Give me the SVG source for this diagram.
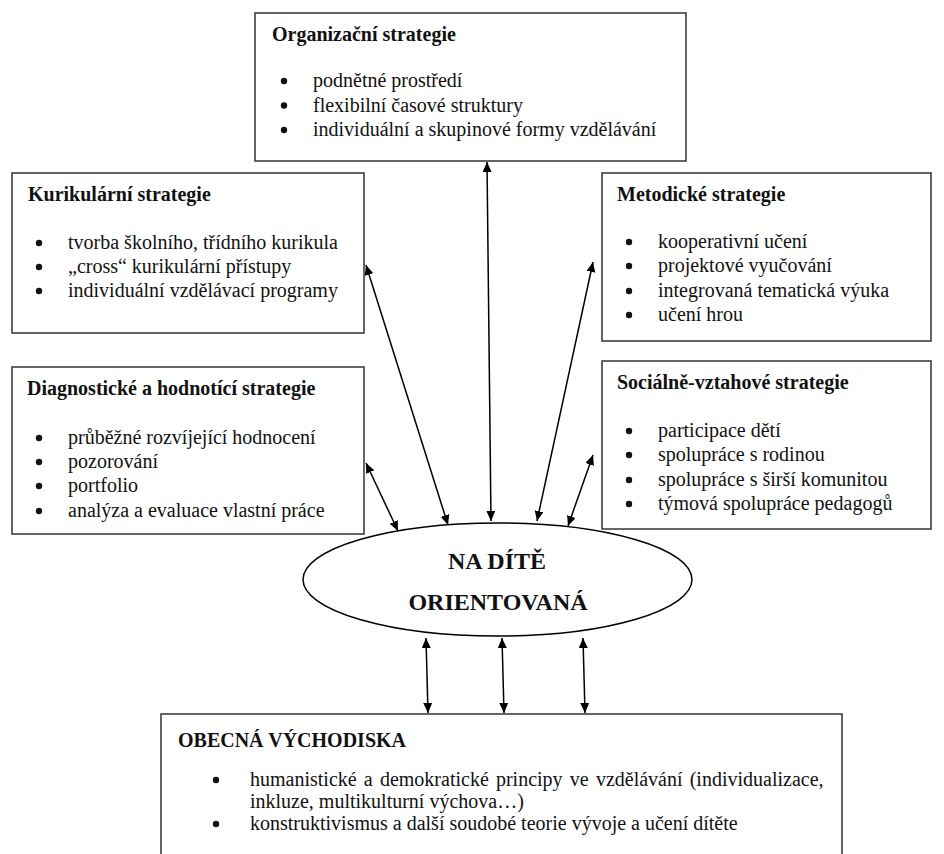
<svg xmlns="http://www.w3.org/2000/svg" width="944" height="854" viewBox="0 0 944 854">
<style>
.box{fill:#fff;stroke:#333;stroke-width:1.5}
.t{font-family:"Liberation Serif","Times New Roman",serif;font-size:20px;fill:#111}
.h{font-weight:bold}
.c{font-family:"Liberation Serif","Times New Roman",serif;font-size:24px;font-weight:bold;fill:#111;text-anchor:middle}
.a{stroke:#000;stroke-width:1.5;fill:none;marker-start:url(#ah);marker-end:url(#ah)}
.d{fill:#111}
</style>
<defs>
<marker id="ah" markerUnits="userSpaceOnUse" markerWidth="11" markerHeight="10" refX="10" refY="4.5" orient="auto-start-reverse">
<path d="M0,0 L10,4.5 L0,9 z" fill="#000"/>
</marker>
</defs>
<rect width="944" height="854" fill="#fff"/>

<g id="connectors">
<line class="a" x1="487" y1="162" x2="491" y2="521"/>
<line class="a" x1="366" y1="265" x2="448" y2="525"/>
<line class="a" x1="593" y1="262" x2="537" y2="521"/>
<line class="a" x1="366" y1="463" x2="398" y2="531"/>
<line class="a" x1="593" y1="455" x2="568" y2="526"/>
<line class="a" x1="426" y1="638" x2="428" y2="713"/>
<line class="a" x1="502" y1="638" x2="504" y2="713"/>
<line class="a" x1="583" y1="638" x2="585" y2="713"/>
</g>

<g id="organizacni">
<rect class="box" x="255" y="13" width="431" height="148"/>
<text class="t h" x="272" y="41">Organizační strategie</text>
<circle class="d" cx="284" cy="81" r="3.2"/><text class="t" x="313" y="87">podnětné prostředí</text>
<circle class="d" cx="284" cy="105.5" r="3.2"/><text class="t" x="313" y="111.5">flexibilní časové struktury</text>
<circle class="d" cx="284" cy="130" r="3.2"/><text class="t" x="313" y="136">individuální a skupinové formy vzdělávání</text>
</g>

<g id="kurikularni">
<rect class="box" x="12" y="173" width="352" height="160"/>
<text class="t h" x="28" y="201">Kurikulární strategie</text>
<circle class="d" cx="39" cy="243" r="3.2"/><text class="t" x="68" y="249">tvorba školního, třídního kurikula</text>
<circle class="d" cx="39" cy="267" r="3.2"/><text class="t" x="68" y="273">„cross“ kurikulární přístupy</text>
<circle class="d" cx="39" cy="291" r="3.2"/><text class="t" x="68" y="297">individuální vzdělávací programy</text>
</g>

<g id="metodicke">
<rect class="box" x="602" y="173" width="329" height="168"/>
<text class="t h" x="617" y="201">Metodické strategie</text>
<circle class="d" cx="629" cy="242" r="3.2"/><text class="t" x="658" y="248">kooperativní učení</text>
<circle class="d" cx="629" cy="266" r="3.2"/><text class="t" x="658" y="272">projektové vyučování</text>
<circle class="d" cx="629" cy="291" r="3.2"/><text class="t" x="658" y="297">integrovaná tematická výuka</text>
<circle class="d" cx="629" cy="315" r="3.2"/><text class="t" x="658" y="321">učení hrou</text>
</g>

<g id="diagnosticke">
<rect class="box" x="12" y="367" width="352" height="167"/>
<text class="t h" x="27" y="395">Diagnostické a hodnotící strategie</text>
<circle class="d" cx="39" cy="438" r="3.2"/><text class="t" x="68" y="444">průběžné rozvíjející hodnocení</text>
<circle class="d" cx="39" cy="462" r="3.2"/><text class="t" x="68" y="468">pozorování</text>
<circle class="d" cx="39" cy="486" r="3.2"/><text class="t" x="68" y="492">portfolio</text>
<circle class="d" cx="39" cy="511" r="3.2"/><text class="t" x="68" y="517">analýza a evaluace vlastní práce</text>
</g>

<g id="socialne">
<rect class="box" x="602" y="361" width="329" height="168"/>
<text class="t h" x="617" y="389">Sociálně-vztahové strategie</text>
<circle class="d" cx="629" cy="431" r="3.2"/><text class="t" x="658" y="437">participace dětí</text>
<circle class="d" cx="629" cy="455" r="3.2"/><text class="t" x="658" y="461">spolupráce s rodinou</text>
<circle class="d" cx="629" cy="480" r="3.2"/><text class="t" x="658" y="486">spolupráce s širší komunitou</text>
<circle class="d" cx="629" cy="504" r="3.2"/><text class="t" x="658" y="510">týmová spolupráce pedagogů</text>
</g>

<g id="center">
<ellipse cx="497.5" cy="579.5" rx="194.5" ry="56.5" fill="#fff" stroke="#000" stroke-width="1.5"/>
<text class="c" x="497" y="569">NA DÍTĚ</text>
<text class="c" x="498" y="610">ORIENTOVANÁ</text>
</g>

<g id="obecna">
<rect class="box" x="161" y="714" width="681" height="160"/>
<text class="t h" x="178" y="747">OBECNÁ VÝCHODISKA</text>
<circle class="d" cx="216" cy="780" r="3.2"/><text class="t" x="250" y="786" word-spacing="2.2">humanistické a demokratické principy ve vzdělávání (individualizace,</text>
<text class="t" x="250" y="808">inkluze, multikulturní výchova…)</text>
<circle class="d" cx="216" cy="824" r="3.2"/><text class="t" x="250" y="830">konstruktivismus a další soudobé teorie vývoje a učení dítěte</text>
</g>
</svg>
